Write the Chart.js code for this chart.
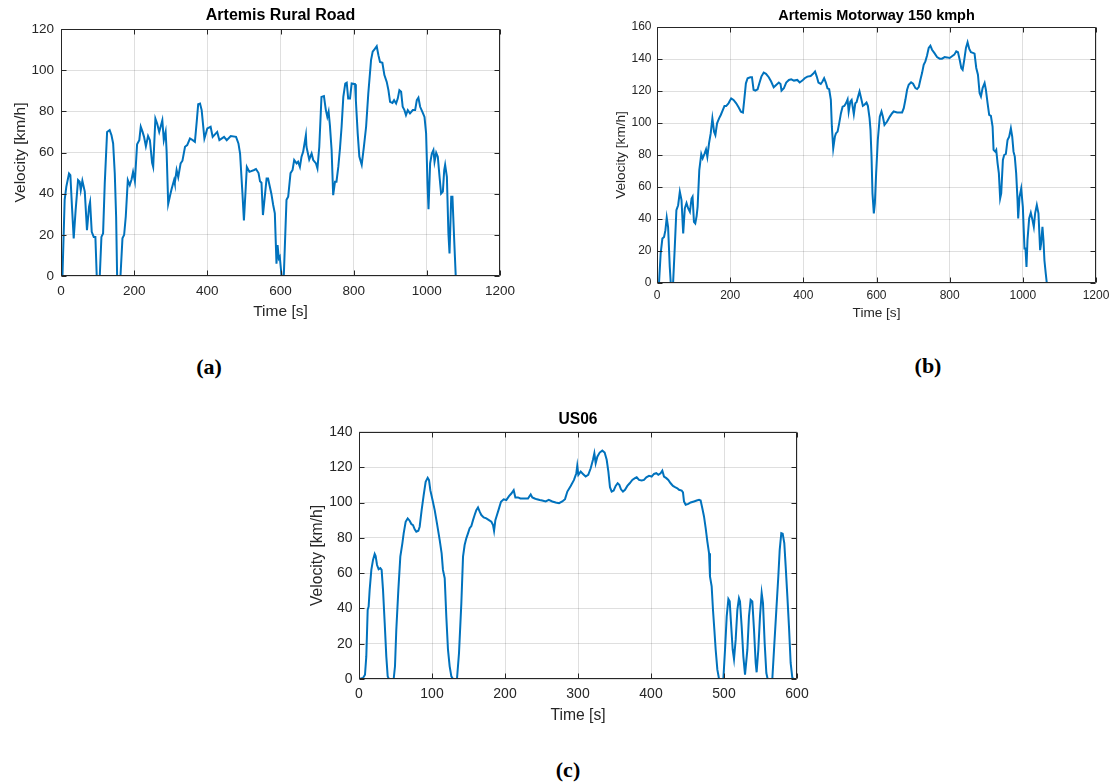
<!DOCTYPE html>
<html>
<head>
<meta charset="utf-8">
<script src="https://cdn.jsdelivr.net/npm/chart.js@4.4.0/dist/chart.umd.min.js"></script>
<style>
  body { margin: 0; background: #fff; width: 1112px; height: 783px; overflow: hidden; position: relative; }
  canvas { position: absolute; }
  .tag { position: absolute; transform: translate(-50%, -50%); font: bold 22px "Liberation Serif", "DejaVu Serif", serif; color: #000; line-height: 1; }
</style>
</head>
<body>
<canvas id="chartA" width="530" height="330" style="left:0;top:0"></canvas>
<canvas id="chartB" width="512" height="340" style="left:600px;top:0"></canvas>
<canvas id="chartC" width="520" height="340" style="left:300px;top:400px"></canvas>
<div class="tag" style="left:209px;top:367px">(a)</div>
<div class="tag" style="left:928px;top:366px">(b)</div>
<div class="tag" style="left:568px;top:770px">(c)</div>
<script>
// Artemis Rural Road
const timeA = [0, 4, 10, 14.6, 21.9, 25.6, 30, 34.7, 40, 46.6, 51, 54, 58.4, 65, 71, 76.7, 79.5, 84, 89.5, 94, 97.7, 106, 110.5, 115, 119.6, 126, 133, 138, 142.5, 147, 150.7, 153.4, 162.6, 168, 172.6, 177, 182.6, 188, 193, 197, 202, 208, 214, 218, 223, 227, 232, 238, 243, 249, 252, 258, 263, 268.5, 277, 281, 286, 288.6, 293, 298, 302, 309, 311, 316, 320.5, 327, 332, 339, 345, 352.5, 360, 366, 371, 375, 380, 384.5, 392, 400, 409, 414.6, 427, 433, 445.7, 453, 464, 478.5, 485, 489.5, 496, 500, 505, 508, 515, 528, 533, 540, 544, 548, 552, 562, 566, 575, 580, 584.5, 589, 592, 595.4, 598, 603, 609, 616.4, 621, 627.4, 633, 637.4, 644, 648, 653, 657.5, 662, 669.4, 671, 678.5, 685, 689.5, 697, 701, 706, 712, 718.7, 724, 728, 731.5, 735, 739.7, 744, 749, 753, 758, 762.6, 767, 771.7, 777, 781, 785, 790, 794.5, 803.7, 806, 811, 815.5, 822, 828, 834, 840, 847.5, 852, 858.4, 863, 867.6, 872, 878.5, 884, 890.4, 895, 899.5, 906, 910.5, 916, 920.5, 925, 929.7, 934, 938.8, 943, 947.9, 954, 961.6, 968, 972.6, 977, 981.7, 989, 993.6, 998, 1001.8, 1004.6, 1009, 1013.7, 1018, 1021, 1025.6, 1030, 1034.7, 1039, 1043.8, 1047.5, 1050, 1054.8, 1059, 1062, 1066.7, 1070, 1074.8, 1079];
const speedA = [0, 0, 37, 43.4, 49.8, 49, 33.7, 18.3, 32, 46.6, 45.8, 41.7, 46.3, 41, 22.3, 33.7, 36, 21.5, 19, 19, 0, 0, 19, 20.7, 45, 70, 70.9, 68.4, 64.4, 49.8, 28.8, 0, 0, 18.3, 20, 28.8, 46.6, 44.2, 47, 50.6, 46, 64, 66, 72.5, 70, 67.6, 63, 68, 66, 55, 53, 76.5, 74, 70, 75.7, 66, 70, 61, 35, 39, 42, 46.6, 45, 51.5, 48, 54.7, 56, 62.8, 63.6, 66.8, 66, 65.2, 75, 83.5, 83.8, 80.6, 66.8, 71.7, 72.5, 67.6, 70, 66, 67.6, 66, 68, 67.6, 64.4, 59.5, 40, 27, 43, 53, 50.6, 51.5, 52, 50, 46, 45.3, 29.6, 47.4, 47.4, 40, 34.5, 30.4, 6, 15, 8.6, 9.4, 0, 0, 37, 38.5, 50, 51.5, 56.3, 54.7, 55.5, 53, 58, 60.4, 68.4, 62.8, 56.6, 59.5, 56.3, 54.7, 52.3, 62.8, 87, 87.4, 80.6, 77.3, 79.8, 73.3, 61.2, 39.3, 45.8, 45.8, 53, 62, 72.5, 87, 93.5, 93.9, 86.2, 86.2, 93.5, 93.2, 85.4, 69.3, 58, 54, 62.8, 72.5, 88.7, 104.9, 109, 110.5, 111.6, 107.3, 104, 103.6, 97.6, 94.3, 90.3, 84.6, 84.1, 85.4, 83.8, 86.2, 90.3, 89.5, 82.2, 80.6, 78.2, 80.6, 79, 80.6, 80.6, 85.4, 86.6, 82.2, 79.3, 77.3, 69.3, 45, 32.4, 54.7, 59.5, 61.2, 55.5, 59.9, 58, 48.2, 40, 41, 51.5, 54, 48.2, 20.7, 11, 38.5, 38.5, 17.5, 0];

// Artemis Motorway 150 kmph
const timeB = [0, 5.5, 10, 14.7, 19.3, 23, 26.6, 30.3, 34.9, 37.6, 44, 48.6, 53, 57.8, 62.4, 67, 71.6, 76, 80.7, 85.3, 89.9, 94.5, 97.2, 101, 104.6, 108.3, 111, 115.6, 121, 124.8, 129.4, 134, 137.6, 142.2, 146.8, 151.4, 156, 159.6, 164.2, 169.7, 174.3, 179.8, 184.4, 189, 195.4, 202.8, 209.2, 216.5, 223, 229.4, 234.9, 238.5, 243, 247.7, 255, 259.6, 264, 268.8, 275, 279.8, 285.3, 291.7, 298, 305.5, 312, 319, 325.7, 333, 337.6, 340.4, 346.8, 353.2, 360.6, 367, 374.3, 383.5, 390, 397.2, 403.7, 411, 420, 426.6, 432, 436.7, 441.3, 447.7, 452.3, 456.9, 461.5, 466, 470.6, 475.2, 478, 481.7, 486.2, 489, 493.6, 498, 502.7, 507.3, 512, 516.5, 521, 523.9, 528.4, 532, 538, 542, 545.5, 549, 553.6, 558, 562.7, 567, 572.7, 576.4, 581, 583.6, 586.4, 589, 592.7, 595.5, 599, 603.6, 609, 613.6, 617.3, 621.8, 629, 636.4, 642.7, 647, 656.4, 670, 674.5, 679, 683.6, 688, 694.5, 700, 706.4, 711, 715.5, 720, 724.5, 729, 733.6, 738, 742.7, 747.3, 751.8, 758, 765.5, 772.7, 779, 786.4, 792.7, 800, 806.4, 812.7, 818, 822.7, 827.3, 831.8, 835.5, 840, 844.5, 849, 853.6, 858.2, 863.6, 868, 872.7, 877.3, 881.8, 885.5, 890, 895.5, 899, 903.6, 908, 912.7, 917.3, 920, 924.5, 927.3, 931, 934.5, 938, 940.9, 945.5, 949, 953.6, 958.2, 962.7, 967.3, 971, 974.5, 978, 981.8, 985.5, 987.3, 991, 995.5, 1000, 1004.5, 1007.3, 1010, 1012.7, 1017.3, 1021.8, 1026.4, 1030, 1033.6, 1038.2, 1042.7, 1047.3, 1050, 1053.6, 1056.4, 1059, 1062.7, 1065.5];
const speedB = [0, 0, 18.4, 27.8, 28.8, 33, 40.9, 35, 10, 0, 0, 22.5, 45.5, 48.6, 57, 51.8, 30.9, 46.6, 50, 46.6, 44.5, 52.8, 53.9, 38.2, 37.2, 41.8, 47.6, 70.6, 80.6, 77.9, 80.6, 83.5, 78.9, 87.3, 93.5, 102.9, 94.6, 92.5, 99.8, 102.9, 105, 108.1, 110.6, 110.6, 112.3, 115.4, 114.4, 112.3, 109.8, 107.1, 106.5, 114.4, 124.8, 128, 128.6, 128.6, 120.7, 120.2, 121.1, 124.8, 129, 131.5, 130.7, 128.6, 125.9, 122.3, 123.8, 125.3, 124.4, 120.2, 121.7, 125.3, 126.9, 127.3, 126.5, 126.9, 125.3, 126.5, 128, 129, 129.4, 130.7, 132.2, 129, 125.3, 124.4, 125.9, 128, 125.3, 121.7, 121.1, 114.4, 97.7, 84.1, 91.4, 93.5, 94.6, 99.8, 106, 110.2, 110.6, 112.3, 114.8, 107.1, 113.4, 114.4, 105.5, 112.3, 113, 116, 119.7, 115.5, 110.7, 111.4, 112.8, 110.7, 103, 95.7, 79, 56, 43.5, 49.7, 68.5, 89.4, 104, 107.2, 104, 98.8, 100.9, 104, 106.1, 107.2, 106.6, 106.6, 109.3, 114.5, 120.8, 123.9, 125.4, 124.5, 121.8, 121.2, 122.4, 127, 131.2, 136.4, 138.5, 142, 146.9, 148.3, 145.8, 143.8, 141.2, 140.2, 140.2, 141.2, 141, 140.6, 141.7, 142.7, 144.8, 144.2, 139.6, 134.4, 133.3, 139.6, 146.9, 150.4, 146.3, 144.2, 143.8, 143.3, 134.4, 130.2, 118.7, 116.6, 121.8, 125, 120.8, 112.4, 105.1, 104.5, 97.8, 83.2, 82.1, 83.2, 74.8, 68.5, 52.9, 56, 76.9, 80, 80.7, 89.4, 91.5, 96.7, 91.5, 82.1, 79, 68.5, 51.8, 40.3, 53.9, 59.1, 47.6, 21.5, 21.5, 10, 26.7, 40.3, 43.9, 39.3, 35.1, 43.5, 48.7, 43.5, 20.5, 24.7, 35.1, 26.7, 14.2, 5.9, 0];

// US06
const timeC = [0, 5.5, 8.2, 10, 11.9, 13.2, 14.6, 16.9, 19.2, 21.5, 22.8, 24.7, 26.9, 29.2, 31, 32.9, 35.2, 37.4, 39.3, 41, 47.5, 49.3, 51.1, 53.9, 56.6, 59.4, 61.2, 63.9, 66.7, 69.4, 71.7, 74, 76.3, 78.5, 81.3, 83.1, 85.8, 88.6, 91.3, 94.1, 95.9, 97.7, 100.5, 103.7, 106.8, 110.5, 113.2, 115, 117.4, 119.6, 121.9, 124.2, 126.5, 128.8, 134.2, 137, 140.2, 142.5, 144.7, 147, 149.3, 151.6, 153.9, 156.2, 158.4, 160.7, 163, 165.3, 167.6, 170.8, 174.4, 178, 181.3, 183.6, 185, 186.8, 189, 191.8, 194.5, 198.2, 201.8, 205.5, 208.7, 211.9, 214.2, 217.8, 221, 224.7, 228.3, 231.5, 235.2, 237.4, 240.6, 243.8, 247.5, 251, 255.7, 260, 264.8, 269.4, 274, 278.5, 282.2, 285.4, 290, 294.5, 297.7, 299, 300.5, 303.7, 306.8, 310.5, 314, 317.4, 320.5, 322.4, 324.2, 326.5, 329.7, 333.3, 336.5, 339.3, 341.6, 343.8, 346.1, 348.9, 351.6, 354.3, 356.6, 358.9, 361.6, 364.4, 367.6, 370.8, 374.4, 378, 380.4, 383.6, 387.2, 390.4, 393.6, 397.3, 400.9, 404.1, 407.3, 410, 413.2, 415.5, 417.8, 421, 423.7, 426.9, 430.1, 432.9, 436.1, 438.4, 442, 443.8, 445.2, 447.5, 451.1, 454.3, 458.9, 462.6, 465.8, 468, 470.3, 472.6, 474.9, 477.2, 479.5, 480.8, 483.1, 484.9, 486.8, 488.6, 490.9, 493.2, 499.1, 501.4, 503.7, 506, 507.8, 509.6, 511.9, 513.7, 516, 518.3, 520.5, 521.9, 524.2, 526.5, 528.8, 530.1, 532, 534.2, 536.5, 538.8, 541.1, 543.4, 544.7, 547, 549.3, 551.6, 553.4, 555.7, 558, 559.8, 566.2, 568.5, 571.7, 574.4, 576.3, 578.5, 580.4, 582.6, 584.5, 586.8, 589, 591.3, 593.6, 595.9, 599];
const speedC = [0, 0.6, 2.4, 12.8, 39.2, 41, 50.5, 61.8, 67.5, 70.9, 69.7, 64.6, 62.2, 62.8, 61.8, 50.5, 31.7, 12.8, 1.5, 0, 0, 7.2, 27.9, 50.5, 69.3, 76.9, 82.5, 89.1, 91, 89.7, 87.8, 87.2, 84.8, 83.5, 84, 86.3, 95.7, 104.2, 111.7, 114, 112.7, 107, 101.8, 95.7, 88.2, 78.8, 71.2, 61.8, 57.1, 35.4, 16.6, 7.2, 1.5, 0, 0, 14.7, 43, 69.3, 75.9, 79.7, 82.5, 85.4, 86.7, 90, 92.9, 95.7, 97.2, 94.8, 92.9, 91.6, 91, 90, 89.1, 87.2, 84, 90, 92.9, 96.7, 100.4, 101.8, 101.4, 103.6, 105.1, 107, 102.9, 102.9, 102.3, 102.3, 102.3, 102.3, 104.6, 102.9, 102.3, 101.8, 101.4, 101.1, 100.6, 101.5, 100.6, 100, 99.6, 100.6, 101.9, 106.2, 109.4, 112.8, 116.6, 120.8, 115.7, 117.5, 116.2, 114.7, 115.7, 119.4, 124.2, 127.9, 122.3, 126, 128.3, 129.4, 128.3, 124.2, 117.5, 108.7, 106.2, 106.8, 109.4, 110.9, 110, 107.5, 106.2, 107.2, 109.4, 110.9, 112.8, 113.8, 114.3, 112.8, 112.5, 112.8, 114.3, 115.1, 114.7, 116.2, 116.6, 115.7, 116.6, 118.1, 114.7, 113.8, 112.8, 110.9, 109.4, 108.7, 108.1, 107.2, 106.8, 105.7, 100.6, 98.7, 99.2, 100, 100.6, 101.1, 101.5, 101.1, 96.8, 92.1, 85.5, 77.9, 71.3, 58.1, 52.5, 39.2, 27.9, 16.6, 5.3, 0, 0, 16.6, 35.5, 45.3, 44, 31.7, 16.6, 11.3, 22.3, 39.2, 45.8, 44, 29.8, 12.8, 2.5, 2.5, 16.6, 35.5, 44.9, 44, 27.9, 9.1, 3.8, 16.6, 35.5, 48.7, 43, 20.4, 3.4, 0, 0, 16.6, 39.2, 58.1, 73.2, 82.6, 82.3, 77, 63.8, 46.8, 29.8, 9.1, 0.6, 0, 0];

const lineColor = "#0072BD";
const axisColor = "#262626";
const gridColor = "rgba(38,38,38,0.15)";

Chart.defaults.font.family = "'Liberation Sans', Arial, Helvetica, sans-serif";
Chart.defaults.color = axisColor;

// matlab style box with inward ticks on all four sides
const boxPlugin = {
  id: "box",
  afterDatasetsDraw(chart) {
    const { ctx, chartArea: a, scales } = chart;
    const l = Math.round(a.left) + 0.5;
    const r = Math.round(a.right) - 0.5;
    const t = Math.round(a.top) + 0.5;
    const b = Math.round(a.bottom) - 0.5;
    ctx.save();
    ctx.strokeStyle = axisColor;
    ctx.lineWidth = 1;
    ctx.beginPath();
    ctx.rect(l, t, r - l, b - t);
    scales.x.ticks.forEach((tk) => {
      const px = Math.round(scales.x.getPixelForValue(tk.value)) + 0.5;
      ctx.moveTo(px, b); ctx.lineTo(px, b - 5);
      ctx.moveTo(px, t); ctx.lineTo(px, t + 5);
    });
    scales.y.ticks.forEach((tk) => {
      const py = Math.round(scales.y.getPixelForValue(tk.value)) + 0.5;
      ctx.moveTo(l, py); ctx.lineTo(l + 5, py);
      ctx.moveTo(r, py); ctx.lineTo(r - 5, py);
    });
    ctx.stroke();
    ctx.restore();
  },
};

function makeChart(id, title, time, speed, o) {
  return new Chart(document.getElementById(id), {
    type: "line",
    data: {
      datasets: [{
        data: time.map((t, i) => ({ x: t, y: speed[i] })),
        borderColor: lineColor,
        borderWidth: 2,
        pointRadius: 0,
        tension: 0,
        fill: false,
      }],
    },
    options: {
      responsive: false,
      animation: false,
      devicePixelRatio: 1,
      layout: { padding: { left: 0, top: 0, right: o.padRight, bottom: 0 } },
      plugins: {
        legend: { display: false },
        tooltip: { enabled: false },
        title: {
          display: true,
          text: title,
          fullSize: false,
          color: "#000",
          font: { size: o.titleSize, weight: "bold" },
          padding: { top: o.titleTop, bottom: o.titleBottom },
        },
      },
      scales: {
        x: {
          type: "linear",
          min: 0,
          max: o.xMax,
          ticks: { stepSize: o.xStep, maxRotation: 0, padding: o.xTickPad, font: { size: o.tickSize }, callback: (v) => String(v) },
          grid: { color: gridColor, drawTicks: false },
          border: { display: false },
          title: { display: true, text: "Time [s]", font: { size: o.labelSize }, padding: { top: 0, bottom: o.xTitlePad } },
          afterFit: (s) => { s.height = o.xAxisH; s.paddingLeft = 0; s.paddingRight = 0; },
        },
        y: {
          min: 0,
          max: o.yMax,
          ticks: { stepSize: 20, padding: o.yTickPad, font: { size: o.tickSize }, callback: (v) => String(v) },
          grid: { color: gridColor, drawTicks: false },
          border: { display: false },
          title: { display: true, text: "Velocity [km/h]", font: { size: o.labelSize }, padding: { top: o.yTitlePad, bottom: 0 } },
          afterFit: (s) => { s.width = o.yAxisW; },
        },
      },
    },
    plugins: [boxPlugin],
  });
}

makeChart("chartA", "Artemis Rural Road", timeA, speedA, {
  padRight: 30, xMax: 1200, xStep: 200, yMax: 120,
  titleSize: 16, titleTop: 6.4, titleBottom: 3.4,
  tickSize: 13.5, labelSize: 15.5,
  xTickPad: 7.6, xTitlePad: 9.2, xAxisH: 54,
  yTickPad: 7, yTitlePad: 11.2, yAxisW: 61,
});

makeChart("chartB", "Artemis Motorway 150 kmph", timeB, speedB, {
  padRight: 16, xMax: 1200, xStep: 200, yMax: 160,
  titleSize: 14.5, titleTop: 7.3, titleBottom: 2.3,
  tickSize: 12, labelSize: 13.6,
  xTickPad: 5.8, xTitlePad: 18.5, xAxisH: 57,
  yTickPad: 5.5, yTitlePad: 12.8, yAxisW: 57,
});

makeChart("chartC", "US06", timeC, speedC, {
  padRight: 23, xMax: 600, xStep: 100, yMax: 140,
  titleSize: 15.6, titleTop: 9.9, titleBottom: 3.3,
  tickSize: 14, labelSize: 15.7,
  xTickPad: 6.6, xTitlePad: 14.6, xAxisH: 61,
  yTickPad: 6.5, yTitlePad: 8.6, yAxisW: 59,
});
</script>
</body>
</html>
